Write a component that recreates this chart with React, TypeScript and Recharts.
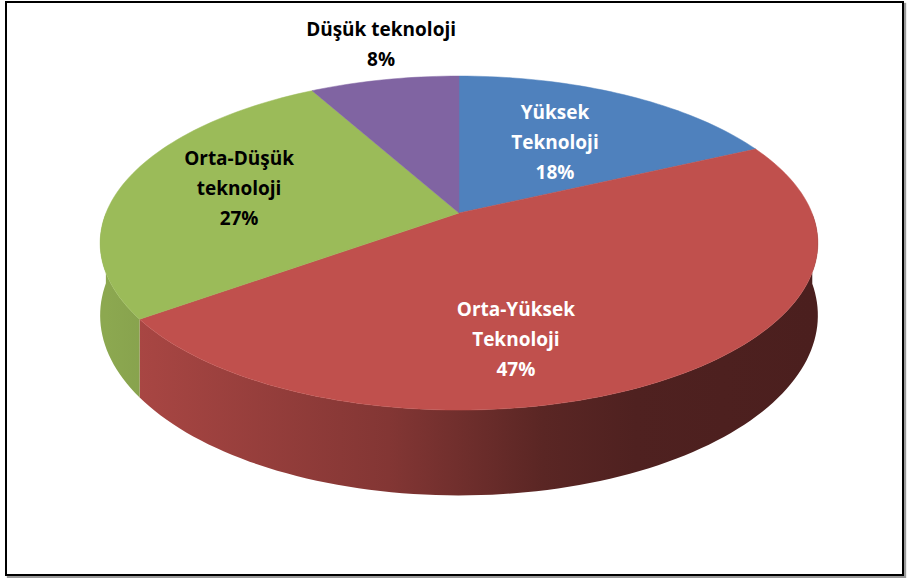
import React from "react";
import { PieChart, Pie } from "recharts";

const CATEGORIES = ["Yüksek\nTeknoloji", "Orta-Yüksek\nTeknoloji", "Orta-Düşük\nteknoloji", "Düşük teknoloji"];
const SHARES = [18, 47, 27, 8];
const COLORS = ["#4F81BD", "#C0504D", "#9BBB59", "#8064A2"];
const LABEL_COLORS = ["#ffffff", "#ffffff", "#000000", "#000000"];

const data = CATEGORIES.map((name, idx) => ({ name, value: SHARES[idx], idx }));

// fake 3D projection of the pie disc (excel style tilt with perspective)
const RX = 353;
const RY = 161.6;
const PERSP = 0.18;
const DEPTH = 70;

// label placement: radial fraction + nudge
const LABEL_POS = [
  { f: 0.6, dx: -8, dy: 4 },
  { f: 0.6, dx: -62, dy: 34 },
  { f: 0.6, dx: -18, dy: -4 },
  { f: 1.35, dx: 18, dy: 2 },
];

function project(cx: number, cy: number, deg: number, f = 1) {
  const r = (deg * Math.PI) / 180;
  const c = Math.cos(r) * f;
  const s = Math.sin(r) * f;
  const den = 1 + PERSP * s;
  return { x: cx + (RX * c) / den, y: cy - (RY * s) / den, den };
}

function arcAngles(start: number, end: number) {
  const n = Math.max(2, Math.ceil(Math.abs(end - start) / 1.5) + 1);
  const out: number[] = [];
  for (let i = 0; i < n; i++) out.push(start + ((end - start) * i) / (n - 1));
  return out;
}

function shade(hex: string, k: number) {
  const v = parseInt(hex.slice(1), 16);
  const r = Math.round(((v >> 16) & 255) * k);
  const g = Math.round(((v >> 8) & 255) * k);
  const b = Math.round((v & 255) * k);
  return `rgb(${r},${g},${b})`;
}

function sliceIndex(props: any) {
  return props.payload?.idx ?? props.index ?? 0;
}

function TopFace(props: any) {
  const { cx, cy, startAngle, endAngle } = props;
  const fill = COLORS[sliceIndex(props)];
  const pts = arcAngles(startAngle, endAngle).map((a) => project(cx, cy, a));
  const d = `M${cx},${cy} ` + pts.map((p) => `L${p.x.toFixed(2)},${p.y.toFixed(2)}`).join(" ") + " Z";
  return <path d={d} fill={fill} stroke={fill} strokeWidth={0.5} />;
}

function SideWall(props: any) {
  const { cx, cy, startAngle, endAngle } = props;
  const idx = sliceIndex(props);
  const angles = arcAngles(startAngle, endAngle).filter((a) => Math.sin((a * Math.PI) / 180) <= 0.001);
  if (angles.length < 2) return <g />;
  const top = angles.map((a) => project(cx, cy, a));
  const bottom = top.map((p) => ({ x: p.x, y: p.y + DEPTH / p.den })).reverse();
  const d =
    "M" +
    top.map((p) => `${p.x.toFixed(2)},${p.y.toFixed(2)}`).join(" L") +
    " L" +
    bottom.map((p) => `${p.x.toFixed(2)},${p.y.toFixed(2)}`).join(" L") +
    " Z";
  const base = COLORS[idx];
  const gid = `wall-${idx}`;
  return (
    <g>
      <defs>
        <linearGradient id={gid} gradientUnits="userSpaceOnUse" x1={cx - RX} y1={0} x2={cx + RX} y2={0}>
          <stop offset="0" stopColor={shade(base, 0.9)} />
          <stop offset="0.4" stopColor={shade(base, 0.68)} />
          <stop offset="0.62" stopColor={shade(base, 0.47)} />
          <stop offset="0.75" stopColor={shade(base, 0.41)} />
          <stop offset="1" stopColor={shade(base, 0.39)} />
        </linearGradient>
      </defs>
      <path d={d} fill={`url(#${gid})`} />
    </g>
  );
}

function renderLabel(props: any) {
  const { cx, cy, midAngle, value } = props;
  const idx = sliceIndex(props);
  const pos = LABEL_POS[idx];
  const p = project(cx, cy, midAngle, pos.f);
  const lines = [...String(CATEGORIES[idx]).split("\n"), `${value}%`];
  const lh = 30;
  const y0 = p.y + pos.dy - ((lines.length - 1) * lh) / 2 + 7;
  return (
    <text
      x={p.x + pos.dx}
      y={y0}
      textAnchor="middle"
      fill={LABEL_COLORS[idx]}
      fontFamily="'Open Sans', sans-serif"
      fontWeight={700}
      fontSize={19}
    >
      {lines.map((t, i) => (
        <tspan key={i} x={p.x + pos.dx} y={y0 + i * lh}>
          {t}
        </tspan>
      ))}
    </text>
  );
}

export default function App() {
  return (
    <div style={{ position: "absolute", left: 0, top: 0, width: 909, height: 578, background: "#fff" }}>
      <div
        style={{
          position: "absolute",
          left: 5,
          top: 1,
          width: 895,
          height: 571,
          border: "2px solid #000",
          boxShadow: "2px 2px 1px #9a9a9a",
        }}
      />
      <div style={{ position: "absolute", left: 0, top: 0 }}>
        <PieChart width={909} height={578}>
          <Pie
            data={data}
            dataKey="value"
            nameKey="name"
            cx={454}
            cy={208}
            outerRadius={1}
            startAngle={90}
            endAngle={-270}
            stroke="none"
            shape={SideWall}
            isAnimationActive={false}
          />
          <Pie
            data={data}
            dataKey="value"
            nameKey="name"
            cx={454}
            cy={208}
            outerRadius={1}
            startAngle={90}
            endAngle={-270}
            stroke="none"
            shape={TopFace}
            label={renderLabel}
            labelLine={false}
            isAnimationActive={false}
          />
        </PieChart>
      </div>
    </div>
  );
}
